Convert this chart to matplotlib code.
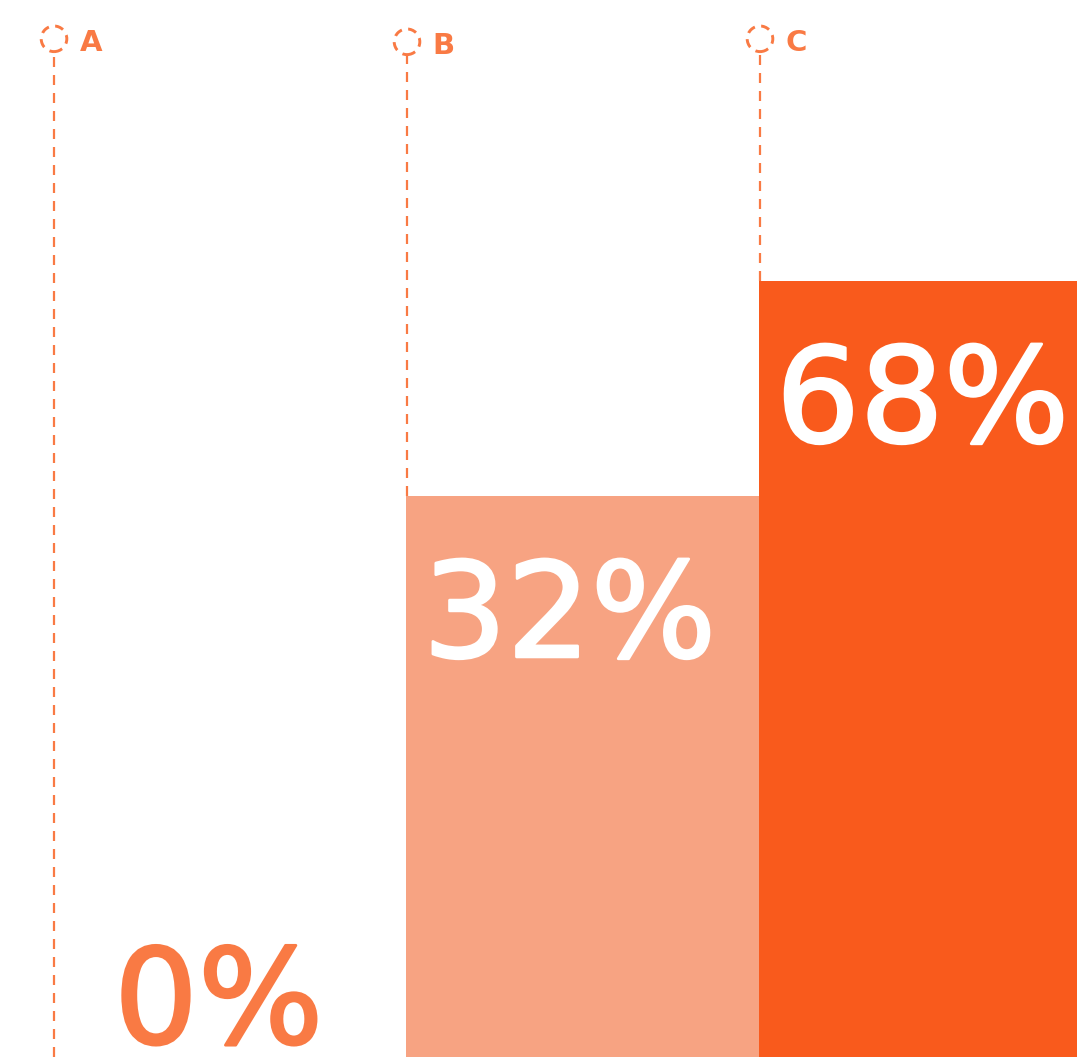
import matplotlib.pyplot as plt
import matplotlib.patheffects as pe

# Share of responses per option
categories = ['A', 'B', 'C']
values = [0, 32, 68]
labels = ['0%', '32%', '68%']

bar_colors = ['#FFFFFF', '#F7A382', '#F95A1C']
accent = '#F97A44'

# bars grow up from this floor, the value axis tops out above the markers
floor = -62.0
top = 115.0


def main():
    fig = plt.figure(figsize=(10.77, 10.57), dpi=100)
    ax = fig.add_axes([0, 0, 1, 1])
    ax.set_xlim(-0.153, 2.898)
    ax.set_ylim(floor, top)
    ax.axis('off')

    xs = list(range(len(categories)))

    # bars, left aligned to their category position
    for x, v, c in zip(xs, values, bar_colors):
        if v > 0:
            ax.bar(x - 0.003, v - floor, bottom=floor, width=1.0, align='edge',
                   color=c, linewidth=0, zorder=2)

    # dashed guide from the marker down to the bar top
    for x, v in zip(xs, values):
        stop = v if v > 0 else floor
        ax.plot([x, x], [stop, 106.3], color=accent, lw=1.6,
                ls=(0, (4.5, 3.6)), zorder=1, solid_capstyle='butt')

    # dashed ring markers and category letters
    marker_y = [108.5, 108.0, 108.5]
    ax.scatter(xs, marker_y, s=340, facecolors='none', edgecolors=accent,
               linewidths=2.1, linestyles=(0, (3.0, 2.2)), zorder=3)
    for x, y, cat in zip(xs, marker_y, categories):
        ax.text(x + 0.072, y - 2.1, cat, color=accent, fontsize=21,
                fontweight='bold', family='DejaVu Sans', ha='left',
                va='baseline')

    # value labels: inside the bar near its top, or on the floor when empty
    for x, v, lab in zip(xs, values, labels):
        if v > 0:
            color, ypos, xoff = 'white', v - 27.0, 0.045
        else:
            color, ypos, xoff = accent, floor + 2.3, 0.17
        ax.text(x + xoff, ypos, lab, color=color, fontsize=95,
                family='DejaVu Sans', ha='left', va='baseline', zorder=4,
                path_effects=[pe.withStroke(linewidth=2.0, foreground=color)])

    fig.savefig('out.png', dpi=100)


if __name__ == '__main__':
    main()
